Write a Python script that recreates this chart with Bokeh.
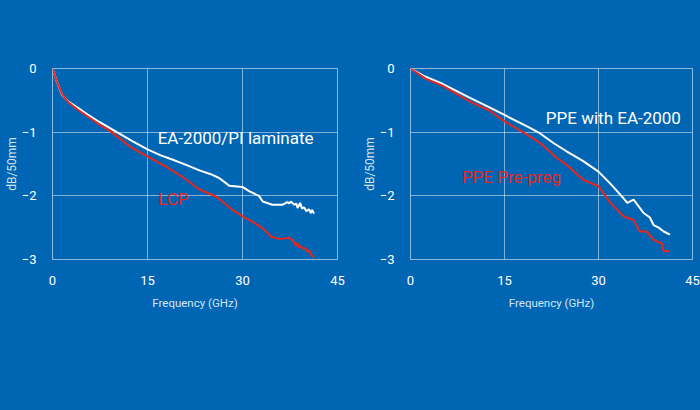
from bokeh.plotting import figure
from bokeh.layouts import row
from bokeh.models import Range1d, FixedTicker
from bokeh.embed import file_html
from bokeh.resources import INLINE
from bokeh.core.properties import value

BG = "#0066b3"
RED = "#e8251f"

# left chart: EA-2000/PI laminate vs LCP
ea_pi_x = [0, 0.7, 1.5, 2.5, 3.9, 5.5, 7.4, 10.5, 12.6, 15.0, 17.0, 18.9, 21.0, 23.2, 25.0, 26.3,
           27.9, 30.0, 31.1, 32.6, 33.2, 34.7, 36.3, 37.1, 37.4, 37.6, 38.2, 38.5, 38.7, 39.1, 39.4,
           39.7, 40.1, 40.5, 40.8, 41.0, 41.3]
ea_pi_y = [0, -0.21, -0.41, -0.52, -0.61, -0.72, -0.84, -1.02, -1.14, -1.27, -1.36, -1.43, -1.51, -1.60, -1.66, -1.72,
           -1.84, -1.86, -1.93, -2.00, -2.09, -2.14, -2.14, -2.10, -2.12, -2.09, -2.14, -2.12, -2.19, -2.11, -2.20,
           -2.18, -2.24, -2.21, -2.27, -2.22, -2.28]
lcp_x = [0, 0.7, 1.5, 2.5, 3.9, 5.5, 7.4, 9.1, 10.5, 12.6, 15.0, 17.9, 20.5, 23.2, 25.8, 28.4,
         30.5, 31.6, 33.2, 34.5, 35.8, 37.4, 37.9, 38.2, 38.4, 38.7, 38.9, 39.2, 39.5, 39.9,
         40.3, 40.6, 40.8, 41.3]
lcp_y = [0, -0.21, -0.40, -0.53, -0.64, -0.75, -0.88, -0.98, -1.09, -1.25, -1.38, -1.54, -1.70, -1.90, -2.01, -2.22,
         -2.35, -2.41, -2.51, -2.64, -2.68, -2.66, -2.70, -2.74, -2.78, -2.74, -2.81, -2.79, -2.83, -2.82,
         -2.88, -2.86, -2.92, -2.97]

# right chart: PPE with EA-2000 vs PPE Pre-preg
ppe_ea_x = [0, 2.4, 5.1, 9.5, 12.6, 15.0, 18.6, 20.7, 22.8, 24.9, 27.5, 30.0, 32.0, 34.0, 34.6, 35.6,
            37.2, 38.2, 38.8, 39.6, 40.4, 41.4]
ppe_ea_y = [0, -0.13, -0.24, -0.46, -0.61, -0.73, -0.91, -1.02, -1.17, -1.30, -1.45, -1.62, -1.82, -2.04,
            -2.11, -2.06, -2.27, -2.34, -2.46, -2.50, -2.56, -2.61]
ppe_pp_x = [0, 2.4, 5.1, 9.5, 12.6, 15.0, 18.6, 20.7, 23.4, 24.9, 27.6, 30.0, 31.9, 34.0, 35.6, 36.6,
            37.7, 38.8, 40.1, 40.4, 41.4]
ppe_pp_y = [0, -0.16, -0.27, -0.52, -0.66, -0.83, -1.04, -1.17, -1.41, -1.51, -1.75, -1.85, -2.11, -2.32,
            -2.38, -2.56, -2.56, -2.69, -2.75, -2.87, -2.87]

x_ticks = [0, 15, 30, 45]
y_ticks = [-3, -2, -1, 0]

FONT = "Roboto"


def make_panel(width, left, right, xs1, ys1, xs2, ys2, labels):
    p = figure(width=width, height=410, output_backend="svg", toolbar_location=None,
               x_range=Range1d(0, 45), y_range=Range1d(-3, 0),
               min_border_left=left, min_border_right=right, min_border_top=68, min_border_bottom=151,
               background_fill_color=BG, border_fill_color=BG,
               x_axis_label="Frequency (GHz)", y_axis_label="dB/50mm")
    p.outline_line_color = "white"
    p.outline_line_alpha = 0.55
    for g in (p.xgrid, p.ygrid):
        g.grid_line_color = "white"
        g.grid_line_alpha = 0.5
    p.xaxis.ticker = FixedTicker(ticks=x_ticks)
    p.yaxis.ticker = FixedTicker(ticks=y_ticks)
    for ax in (p.xaxis, p.yaxis):
        ax.axis_line_color = None
        ax.major_tick_line_color = None
        ax.minor_tick_line_color = None
        ax.major_tick_out = 0
        ax.major_label_text_color = "white"
        ax.major_label_text_font = FONT
        ax.major_label_text_font_size = "13px"
        ax.axis_label_text_color = "#d6e4f2"
        ax.axis_label_text_font = FONT
        ax.axis_label_text_font_style = "normal"
    p.xaxis.axis_label_text_font_size = "11.5px"
    p.yaxis.axis_label_text_font_size = "12px"
    p.xaxis.major_label_standoff = 16
    p.xaxis.axis_label_standoff = 8
    p.yaxis.major_label_standoff = 16
    p.yaxis.axis_label_standoff = 0

    p.line(xs1, ys1, line_color="white", line_width=2)
    p.line(xs2, ys2, line_color=RED, line_width=2)

    for (tx, ty, txt, col) in labels:
        p.text([tx], [ty], text=[txt], text_color=col, text_font=value(FONT),
               text_font_size="17px", text_baseline="alphabetic", text_align="left")
    return p


left = make_panel(358, 52, 21, ea_pi_x, ea_pi_y, lcp_x, lcp_y,
                  [(16.6, -1.09, "EA-2000/PI laminate", "white"), (16.7, -2.05, "LCP", RED)])
right = make_panel(342, 52, 8, ppe_ea_x, ppe_ea_y, ppe_pp_x, ppe_pp_y,
                   [(21.6, -0.78, "PPE with EA-2000", "white"), (8.2, -1.70, "PPE Pre-preg", RED)])

p = row(left, right)
html = file_html(p, INLINE)
html = html.replace("<body>", '<body style="background:%s">' % BG)
open("out.html", "w").write(html)
